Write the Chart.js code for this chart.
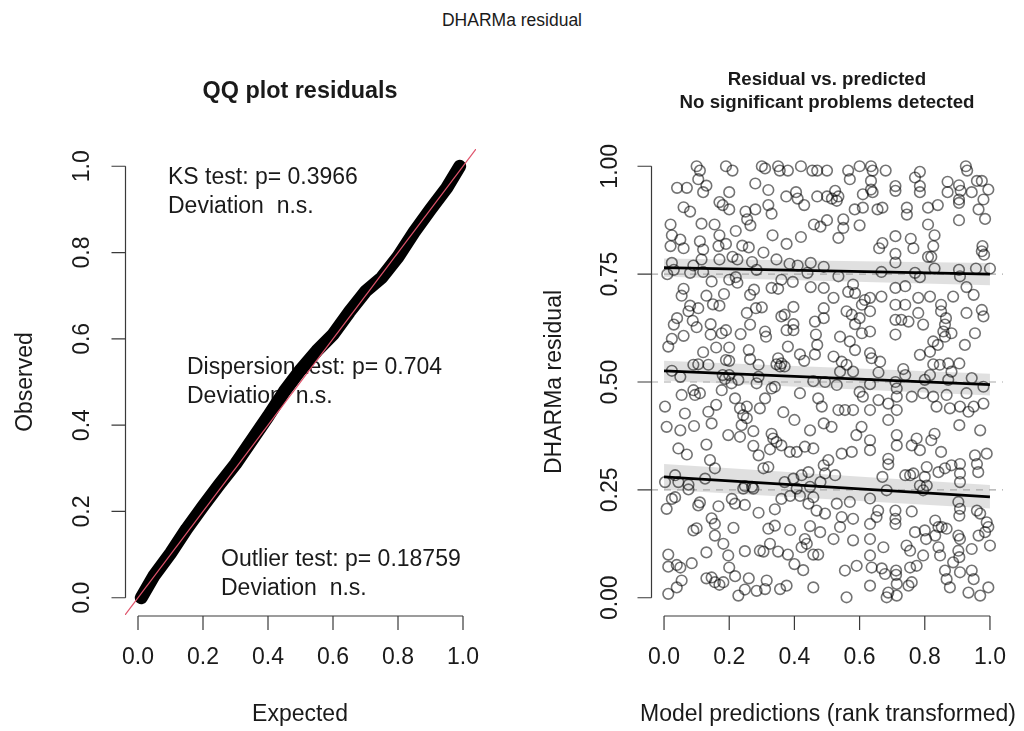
<!DOCTYPE html>
<html>
<head>
<meta charset="utf-8">
<title>DHARMa residual</title>
<script src="https://cdn.jsdelivr.net/npm/chart.js@4.4.0/dist/chart.umd.min.js"></script>
<style>
  body { margin: 0; background: #fff; }
  #wrap { position: relative; width: 1024px; height: 731px; overflow: hidden; }
  #mainTitle {
    position: absolute; left: 0; top: 10px; width: 1024px; line-height: 20px;
    text-align: center; font: 17.5px "Liberation Sans", Arial, sans-serif; color: #1a1a1a;
  }
  canvas { position: absolute; top: 0; }
  #qq { left: 0; }
  #resid { left: 512px; }
</style>
</head>
<body>
<div id="wrap">
  <div id="mainTitle">DHARMa residual</div>
  <canvas id="qq" width="512" height="731"></canvas>
  <canvas id="resid" width="512" height="731"></canvas>
</div>
<script>
// QQ panel: observed (sorted) residuals against expected uniform quantiles
var qqExpected = [0.01, 0.05, 0.1, 0.15, 0.2, 0.25, 0.3, 0.35, 0.4, 0.45, 0.5,
                  0.55, 0.6, 0.65, 0.7, 0.75, 0.8, 0.85, 0.9, 0.95, 0.99];
var qqObserved = [0.0, 0.052, 0.103, 0.16, 0.212, 0.262, 0.31, 0.365, 0.42, 0.478, 0.528,
                  0.572, 0.61, 0.662, 0.71, 0.742, 0.79, 0.848, 0.9, 0.95, 1.0];

var unitTicks = [0, 0.2, 0.4, 0.6, 0.8, 1];
var residTicks = [0, 0.25, 0.5, 0.75, 1];

var ksLines = ["KS test: p= 0.3966", "Deviation  n.s."];
var dispLines = ["Dispersion test: p= 0.704", "Deviation  n.s."];
var outlierLines = ["Outlier test: p= 0.18759", "Deviation  n.s."];

// residual vs. predicted: [rank transformed prediction, scaled residual]
var residPoints = [
  [0.10,1.00],[0.11,0.99],[0.19,1.00],[0.21,0.99],[0.30,1.00],[0.31,0.995],[0.35,1.00],[0.355,0.99],[0.38,0.99],[0.42,1.00],[0.455,0.99],[0.47,0.99],[0.50,0.99],
  [0.105,0.97],[0.04,0.95],[0.07,0.95],[0.13,0.955],[0.12,0.94],[0.20,0.94],[0.28,0.96],[0.32,0.945],[0.375,0.93],[0.405,0.94],[0.41,0.925],[0.43,0.91],[0.47,0.93],[0.50,0.93],
  [0.17,0.917],[0.18,0.91],[0.20,0.90],[0.06,0.905],[0.08,0.895],[0.25,0.895],[0.28,0.90],[0.255,0.877],[0.265,0.863],[0.32,0.91],[0.33,0.89],
  [0.02,0.865],[0.115,0.867],[0.155,0.865],[0.17,0.84],[0.22,0.85],[0.333,0.84],[0.42,0.836],[0.46,0.865],[0.48,0.86],[0.50,0.875],
  [0.024,0.84],[0.02,0.815],[0.05,0.83],[0.06,0.81],[0.11,0.826],[0.12,0.807],[0.19,0.82],[0.167,0.815],[0.24,0.816],[0.26,0.812],[0.305,0.80],[0.376,0.82],
  [0.024,0.776],[0.115,0.784],[0.09,0.77],[0.17,0.784],[0.21,0.79],[0.225,0.784],[0.27,0.778],[0.345,0.784],[0.385,0.774],[0.41,0.77],[0.45,0.776],[0.49,0.767],
  [0.565,0.99],[0.57,0.97],[0.60,1.00],[0.635,1.00],[0.64,0.99],[0.68,0.99],[0.635,0.966],[0.785,0.987],[0.77,0.974],[0.926,1.00],[0.93,0.99],[0.96,0.966],[0.975,0.966],[0.995,0.946],
  [0.525,0.943],[0.535,0.93],[0.515,0.925],[0.53,0.92],[0.61,0.935],[0.635,0.946],[0.64,0.94],[0.71,0.954],[0.71,0.943],[0.785,0.954],[0.785,0.94],[0.87,0.964],[0.87,0.94],
  [0.905,0.956],[0.91,0.943],[0.905,0.923],[0.905,0.915],[0.944,0.94],[0.98,0.923],
  [0.585,0.90],[0.61,0.904],[0.655,0.90],[0.67,0.904],[0.745,0.904],[0.745,0.888],[0.81,0.904],[0.84,0.91],[0.965,0.90],
  [0.55,0.877],[0.55,0.857],[0.60,0.863],[0.905,0.875],[0.985,0.878],[0.81,0.865],[0.83,0.84],[0.535,0.834],[0.67,0.822],[0.66,0.81],[0.71,0.838],[0.757,0.832],
  [0.765,0.81],[0.826,0.815],[0.82,0.79],[0.81,0.79],[0.977,0.815],[0.975,0.803],[0.982,0.795],[0.71,0.797],[0.71,0.777],
  [0.01,0.75],[0.03,0.76],[0.08,0.753],[0.12,0.755],[0.146,0.733],[0.20,0.737],[0.22,0.743],[0.225,0.73],[0.284,0.76],[0.33,0.718],[0.35,0.716],[0.36,0.737],
  [0.395,0.732],[0.44,0.753],[0.45,0.72],[0.49,0.718],
  [0.06,0.716],[0.054,0.70],[0.13,0.70],[0.15,0.68],[0.17,0.677],[0.184,0.704],[0.264,0.702],[0.276,0.714],[0.397,0.674],
  [0.08,0.677],[0.075,0.664],[0.105,0.671],[0.04,0.648],[0.03,0.633],[0.088,0.642],[0.10,0.627],[0.143,0.634],[0.143,0.61],[0.177,0.613],[0.19,0.62],
  [0.254,0.66],[0.282,0.671],[0.30,0.673],[0.264,0.633],[0.235,0.611],[0.31,0.617],[0.313,0.605],[0.36,0.652],[0.37,0.656],[0.376,0.62],[0.397,0.634],
  [0.397,0.62],[0.463,0.64],[0.49,0.648],[0.49,0.671],
  [0.024,0.60],[0.013,0.582],[0.06,0.607],[0.12,0.569],[0.16,0.58],[0.20,0.58],[0.19,0.551],[0.20,0.549],[0.26,0.574],[0.264,0.553],[0.29,0.54],[0.35,0.555],
  [0.36,0.543],[0.345,0.541],[0.38,0.582],[0.417,0.564],[0.43,0.549],[0.466,0.61],[0.47,0.586],[0.463,0.564],
  [0.024,0.526],[0.09,0.54],[0.105,0.541],[0.136,0.54],[0.18,0.516],[0.20,0.516],[0.29,0.512],[0.356,0.536],[0.37,0.536],
  [0.535,0.745],[0.667,0.755],[0.77,0.753],[0.785,0.743],[0.83,0.763],[0.905,0.76],[0.908,0.745],[0.957,0.763],[1.00,0.763],
  [0.52,0.695],[0.565,0.709],[0.58,0.726],[0.586,0.706],[0.616,0.69],[0.632,0.695],[0.667,0.698],[0.71,0.718],[0.74,0.722],[0.78,0.695],[0.816,0.698],
  [0.85,0.679],[0.887,0.698],[0.928,0.72],[0.95,0.702],
  [0.56,0.664],[0.576,0.656],[0.586,0.634],[0.60,0.648],[0.607,0.679],[0.632,0.664],[0.71,0.679],[0.74,0.679],[0.71,0.644],[0.728,0.644],[0.75,0.64],
  [0.78,0.66],[0.795,0.633],[0.85,0.664],[0.865,0.648],[0.862,0.633],[0.857,0.617],[0.928,0.66],[0.975,0.667],[0.98,0.652],
  [0.54,0.605],[0.57,0.594],[0.607,0.613],[0.632,0.617],[0.71,0.61],[0.826,0.594],[0.84,0.586],[0.862,0.605],[0.882,0.613],[0.923,0.586],[0.954,0.613],
  [0.52,0.559],[0.545,0.547],[0.56,0.54],[0.586,0.574],[0.632,0.567],[0.637,0.555],[0.663,0.547],[0.785,0.563],[0.816,0.57],[0.826,0.541],[0.846,0.54],
  [0.872,0.543],[0.906,0.543],
  [0.54,0.524],[0.58,0.524],[0.658,0.522],[0.734,0.53],[0.74,0.516],[0.816,0.516],[0.882,0.524],
  [0.05,0.512],[0.187,0.507],[0.207,0.497],[0.228,0.505],[0.284,0.497],[0.33,0.485],[0.34,0.489],[0.458,0.502],[0.494,0.50],
  [0.054,0.47],[0.09,0.481],[0.095,0.47],[0.11,0.474],[0.177,0.481],[0.003,0.443],[0.064,0.427],[0.136,0.431],[0.16,0.447],[0.218,0.462],[0.233,0.439],
  [0.254,0.443],[0.243,0.423],[0.294,0.439],[0.31,0.462],[0.366,0.43],[0.40,0.412],[0.417,0.474],[0.473,0.462],[0.484,0.443],
  [0.008,0.396],[0.05,0.388],[0.092,0.398],[0.146,0.404],[0.238,0.40],[0.254,0.416],[0.274,0.386],[0.33,0.38],[0.335,0.369],[0.345,0.361],[0.197,0.377],
  [0.233,0.373],[0.448,0.388],[0.49,0.404],
  [0.044,0.346],[0.07,0.332],[0.13,0.355],[0.274,0.352],[0.29,0.33],[0.325,0.344],[0.36,0.353],[0.386,0.338],[0.407,0.338],[0.432,0.35],[0.458,0.346],
  [0.141,0.319],[0.156,0.30],[0.49,0.307],[0.305,0.30],[0.32,0.303],[0.443,0.291],[0.494,0.288],
  [0.003,0.268],[0.034,0.284],[0.044,0.268],[0.075,0.262],[0.126,0.276],[0.248,0.259],[0.27,0.257],[0.37,0.268],[0.397,0.276],[0.422,0.284],[0.48,0.268],
  [0.53,0.493],[0.632,0.495],[0.71,0.50],[0.80,0.505],[0.872,0.505],[0.944,0.509],[0.98,0.489],
  [0.535,0.435],[0.555,0.435],[0.58,0.435],[0.60,0.477],[0.61,0.466],[0.632,0.435],[0.658,0.458],[0.688,0.45],[0.688,0.412],[0.714,0.485],[0.714,0.466],
  [0.714,0.435],[0.76,0.466],[0.795,0.474],[0.826,0.466],[0.836,0.443],[0.867,0.47],[0.877,0.439],[0.908,0.443],[0.928,0.474],[0.934,0.431],[0.95,0.443],[0.98,0.45],
  [0.514,0.396],[0.59,0.377],[0.606,0.396],[0.632,0.365],[0.632,0.342],[0.714,0.377],[0.714,0.353],[0.76,0.353],[0.775,0.369],[0.785,0.342],[0.82,0.365],
  [0.83,0.38],[0.85,0.338],[0.906,0.40],[0.97,0.388],
  [0.504,0.319],[0.525,0.284],[0.545,0.334],[0.576,0.338],[0.67,0.28],[0.688,0.322],[0.688,0.309],[0.74,0.284],[0.755,0.284],[0.765,0.288],[0.806,0.303],
  [0.80,0.28],[0.842,0.291],[0.862,0.30],[0.882,0.307],[0.908,0.31],[0.908,0.288],[0.908,0.268],[0.954,0.33],[0.96,0.31],[0.964,0.291],[0.99,0.334],
  [0.785,0.26],[0.806,0.26],
  [0.075,0.251],[0.243,0.253],[0.274,0.253],[0.407,0.253],[0.448,0.257],
  [0.008,0.206],[0.024,0.229],[0.034,0.233],[0.11,0.221],[0.105,0.214],[0.167,0.212],[0.208,0.229],[0.218,0.218],[0.248,0.215],[0.29,0.197],[0.34,0.205],
  [0.36,0.229],[0.387,0.236],[0.417,0.236],[0.443,0.218],[0.458,0.233],[0.468,0.202],[0.494,0.195],
  [0.09,0.156],[0.10,0.161],[0.146,0.184],[0.156,0.171],[0.156,0.144],[0.213,0.162],[0.182,0.125],[0.32,0.16],[0.34,0.167],[0.387,0.157],[0.448,0.166],
  [0.479,0.152],[0.432,0.136],[0.438,0.125],[0.422,0.117],
  [0.013,0.10],[0.013,0.072],[0.039,0.076],[0.05,0.07],[0.085,0.08],[0.13,0.105],[0.197,0.098],[0.20,0.07],[0.248,0.108],[0.294,0.109],[0.305,0.107],
  [0.325,0.125],[0.35,0.107],[0.38,0.10],[0.40,0.078],[0.427,0.064],[0.458,0.10],[0.473,0.10],
  [0.13,0.045],[0.146,0.047],[0.156,0.036],[0.182,0.036],[0.17,0.03],[0.218,0.05],[0.26,0.045],[0.054,0.04],[0.039,0.024],[0.013,0.009],[0.228,0.005],
  [0.248,0.019],[0.284,0.016],[0.31,0.02],[0.315,0.04],[0.356,0.02],[0.376,0.028],[0.458,0.024],
  [0.683,0.249],[0.795,0.249],[0.53,0.218],[0.57,0.222],[0.632,0.23],[0.545,0.187],[0.58,0.183],[0.54,0.164],[0.657,0.202],[0.652,0.187],[0.71,0.202],
  [0.71,0.183],[0.71,0.171],[0.76,0.20],[0.632,0.171],[0.903,0.222],[0.908,0.206],[0.906,0.19],[0.96,0.202],[0.97,0.195],[0.832,0.179],[0.842,0.164],
  [0.852,0.164],[0.867,0.16],[0.99,0.175],[0.995,0.164],[0.985,0.152],
  [0.52,0.136],[0.58,0.133],[0.632,0.136],[0.673,0.117],[0.744,0.121],[0.755,0.109],[0.77,0.152],[0.80,0.156],[0.804,0.136],[0.832,0.144],[0.842,0.117],
  [0.847,0.098],[0.903,0.144],[0.908,0.136],[0.903,0.109],[0.944,0.113],[0.965,0.144],[1.00,0.121],
  [0.632,0.098],[0.591,0.074],[0.555,0.063],[0.637,0.07],[0.668,0.068],[0.678,0.055],[0.712,0.063],[0.712,0.053],[0.755,0.07],[0.775,0.074],[0.795,0.098],
  [0.862,0.063],[0.867,0.043],[0.887,0.082],[0.906,0.094],[0.908,0.059],[0.944,0.063],[0.95,0.043],
  [0.632,0.028],[0.56,0.001],[0.688,0.012],[0.683,0.001],[0.714,0.032],[0.714,0.005],[0.75,0.028],[0.76,0.036],[0.877,0.024],[0.934,0.012],[0.97,0.005],[0.995,0.024]
];

// quantile regression fits at x = 0 and x = 1, with their +/- error band
var quantileLevels = [0.25, 0.5, 0.75];
var fitAtStart = [0.28, 0.526, 0.765];
var fitAtEnd = [0.234, 0.494, 0.75];
var bandHalfStart = [0.03, 0.023, 0.021];
var bandHalfEnd = [0.027, 0.025, 0.026];

var FONT = '"Liberation Sans", Arial, Helvetica, sans-serif';

// base-graphics look: axis line only from first to last tick, ticks pointing out,
// y tick labels turned to read upwards
var rStyleAxes = {
    id: 'rStyleAxes',
    beforeDatasetsDraw: function (chart, args, o) {
        if (!o.notes) return;
        var ctx = chart.ctx;
        ctx.save();
        ctx.font = '23px ' + FONT;
        ctx.fillStyle = '#1a1a1a';
        ctx.textAlign = 'left';
        ctx.textBaseline = 'middle';
        o.notes.forEach(function (n) {
            n.lines.forEach(function (s, i) {
                ctx.fillText(s, n.x, n.y + i * 29);
            });
        });
        ctx.restore();
    },
    afterDraw: function (chart, args, o) {
        var ctx = chart.ctx, a = chart.chartArea;
        var xs = chart.scales.x, ys = chart.scales.y;
        ctx.save();
        ctx.strokeStyle = '#3a3a3a';
        ctx.lineWidth = 1.2;
        ctx.fillStyle = '#1a1a1a';
        ctx.font = '23px ' + FONT;
        ctx.textAlign = 'center';
        ctx.textBaseline = 'middle';

        var yb = a.bottom + 1;
        var xa = a.left + 0.5;
        ctx.beginPath();
        ctx.moveTo(xs.getPixelForValue(o.xTicks[0]), yb);
        ctx.lineTo(xs.getPixelForValue(o.xTicks[o.xTicks.length - 1]), yb);
        o.xTicks.forEach(function (t) {
            var px = xs.getPixelForValue(t);
            ctx.moveTo(px, yb);
            ctx.lineTo(px, yb + 14);
        });
        ctx.moveTo(xa, ys.getPixelForValue(o.yTicks[0]));
        ctx.lineTo(xa, ys.getPixelForValue(o.yTicks[o.yTicks.length - 1]));
        o.yTicks.forEach(function (t) {
            var py = ys.getPixelForValue(t);
            ctx.moveTo(xa, py);
            ctx.lineTo(xa - 14, py);
        });
        ctx.stroke();

        o.xTicks.forEach(function (t) {
            ctx.fillText(t.toFixed(o.xDigits), xs.getPixelForValue(t), a.bottom + 43);
        });
        o.yTicks.forEach(function (t) {
            ctx.save();
            ctx.translate(a.left - o.yLabelGap, ys.getPixelForValue(t));
            ctx.rotate(-Math.PI / 2);
            ctx.fillText(t.toFixed(o.yDigits), 0, 0);
            ctx.restore();
        });

        ctx.fillText(o.xTitle, o.xTitlePos[0], o.xTitlePos[1]);
        ctx.save();
        ctx.translate(o.yTitlePos[0], o.yTitlePos[1]);
        ctx.rotate(-Math.PI / 2);
        ctx.fillText(o.yTitle, 0, 0);
        ctx.restore();

        ctx.font = 'bold ' + o.titleSize + 'px ' + FONT;
        o.title.forEach(function (s, i) {
            ctx.fillText(s, o.titlePos[0], o.titlePos[1] + i * 23);
        });
        ctx.restore();
    }
};

function unitScale() {
    return { type: 'linear', min: -0.04, max: 1.04, display: false };
}

// QQ plot
new Chart(document.getElementById('qq'), {
    type: 'line',
    data: {
        datasets: [
            {
                data: [{ x: -0.04, y: -0.04 }, { x: 1.04, y: 1.04 }],
                borderColor: '#DF536B',
                borderWidth: 1.2,
                pointRadius: 0
            },
            {
                data: qqExpected.map(function (e, i) { return { x: e, y: qqObserved[i] }; }),
                borderColor: '#000',
                borderWidth: 13,
                borderCapStyle: 'round',
                borderJoinStyle: 'round',
                pointRadius: 0
            }
        ]
    },
    options: {
        responsive: false,
        animation: false,
        layout: { padding: { left: 125, right: 36, top: 149, bottom: 116 } },
        scales: { x: unitScale(), y: unitScale() },
        plugins: {
            legend: { display: false },
            tooltip: { enabled: false },
            rStyleAxes: {
                xTicks: unitTicks, yTicks: unitTicks, xDigits: 1, yDigits: 1, yLabelGap: 42,
                xTitle: 'Expected', xTitlePos: [300, 715],
                yTitle: 'Observed', yTitlePos: [26, 382],
                title: ['QQ plot residuals'], titleSize: 23.4, titlePos: [300, 92],
                notes: [
                    { lines: ksLines, x: 168, y: 178 },
                    { lines: dispLines, x: 187, y: 368 },
                    { lines: outlierLines, x: 221, y: 560 }
                ]
            }
        }
    },
    plugins: [rStyleAxes]
});

// residual vs. predicted
var residSets = [];
quantileLevels.forEach(function (q, i) {
    residSets.push({
        data: [{ x: 0, y: fitAtStart[i] }, { x: 1, y: fitAtEnd[i] }],
        borderColor: '#000', borderWidth: 2.8, pointRadius: 0
    });
});
residSets.push({
    data: residPoints.map(function (p) { return { x: p[0], y: p[1] }; }),
    showLine: false,
    pointRadius: 5.3,
    pointBorderWidth: 1.6,
    pointBorderColor: 'rgba(0,0,0,0.55)',
    pointBackgroundColor: 'rgba(0,0,0,0)'
});
quantileLevels.forEach(function (q) {
    residSets.push({
        data: [{ x: -0.04, y: q }, { x: 1.04, y: q }],
        borderColor: '#a8a8a8', borderWidth: 1.2, borderDash: [7, 6], pointRadius: 0
    });
});
quantileLevels.forEach(function (q, i) {
    residSets.push({
        data: [{ x: 0, y: fitAtStart[i] - bandHalfStart[i] }, { x: 1, y: fitAtEnd[i] - bandHalfEnd[i] }],
        borderWidth: 0, pointRadius: 0, fill: false
    });
    residSets.push({
        data: [{ x: 0, y: fitAtStart[i] + bandHalfStart[i] }, { x: 1, y: fitAtEnd[i] + bandHalfEnd[i] }],
        borderWidth: 0, pointRadius: 0, fill: '-1', backgroundColor: 'rgba(0,0,0,0.12)'
    });
});

new Chart(document.getElementById('resid'), {
    type: 'line',
    data: { datasets: residSets },
    options: {
        responsive: false,
        animation: false,
        layout: { padding: { left: 139, right: 21, top: 149, bottom: 116 } },
        scales: { x: unitScale(), y: unitScale() },
        plugins: {
            legend: { display: false },
            tooltip: { enabled: false },
            rStyleAxes: {
                xTicks: unitTicks, yTicks: residTicks, xDigits: 1, yDigits: 2, yLabelGap: 40,
                xTitle: 'Model predictions (rank transformed)', xTitlePos: [316, 715],
                yTitle: 'DHARMa residual', yTitlePos: [43, 382],
                title: ['Residual vs. predicted', 'No significant problems detected'],
                titleSize: 18.7, titlePos: [315, 80]
            }
        }
    },
    plugins: [rStyleAxes]
});
</script>
</body>
</html>
